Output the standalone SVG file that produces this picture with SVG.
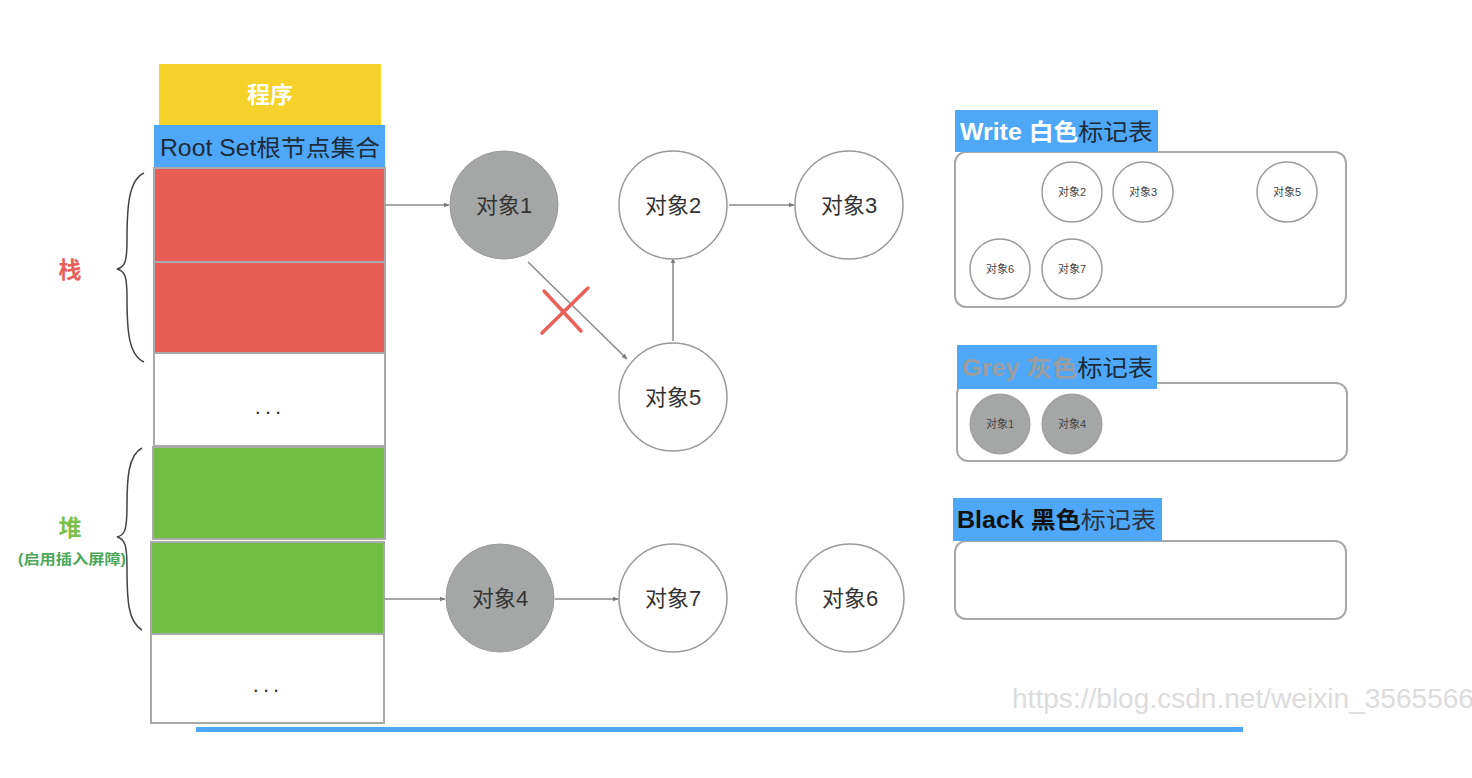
<svg xmlns="http://www.w3.org/2000/svg" width="1472" height="778" viewBox="0 0 1472 778">
<defs>
<style>
.t{font-family:"Liberation Sans","Noto Sans CJK SC",sans-serif}
.cell{stroke:#a9a9a9;stroke-width:2}
.big{fill:#fff;stroke:#9a9a9a;stroke-width:1.5}
.gray{fill:#a5a7a6;stroke:#9a9a9a;stroke-width:1}
.lbl{font-size:22px;fill:#333;text-anchor:middle;dominant-baseline:central}
.sl{font-size:11px;fill:#444;text-anchor:middle;dominant-baseline:central}
.panel{fill:#fff;stroke:#a8a8a8;stroke-width:2}
.hdr{fill:#4fa8f7}
.conn{stroke:#8a8a8a;stroke-width:1.5;fill:none;marker-end:url(#ah)}
.brace{fill:none;stroke:#444;stroke-width:1.5}
</style>
<marker id="ah" viewBox="0 0 10 10" refX="9" refY="5" markerWidth="6" markerHeight="6" orient="auto" markerUnits="userSpaceOnUse">
<path d="M0,1 L10,5 L0,9 Z" fill="#7a7a7a"/>
</marker>
</defs>
<rect width="1472" height="778" fill="#fff"/>

<g id="stack-column">
<rect x="159" y="64" width="222" height="61" fill="#f4d229"/>
<text class="t" x="270" y="95" font-size="23" font-weight="bold" fill="#fff" text-anchor="middle" dominant-baseline="central">程序</text>
<rect x="154" y="125" width="231" height="43" fill="#4fa8f7"/>
<text class="t" x="160" y="148" font-size="23" fill="#1d2b3a" dominant-baseline="central" textLength="220" lengthAdjust="spacingAndGlyphs">Root Set根节点集合</text>
<rect class="cell" x="154" y="168" width="231" height="94" fill="#e85d55"/>
<rect class="cell" x="154" y="262" width="231" height="91" fill="#e85d55"/>
<rect class="cell" x="154" y="353" width="231" height="93" fill="#fff"/>
<text class="t" x="270" y="414" font-size="22" fill="#333" text-anchor="middle" letter-spacing="4">...</text>
<rect class="cell" x="153" y="447" width="232" height="92" fill="#72bd43"/>
<rect class="cell" x="151" y="542" width="233" height="92" fill="#72bd43"/>
<rect class="cell" x="151" y="634" width="233" height="89" fill="#fff"/>
<text class="t" x="268" y="692" font-size="22" fill="#333" text-anchor="middle" letter-spacing="4">...</text>
</g>

<g id="stack-label">
<path class="brace" d="M144,173 C128,180 127,210 127,240 C127,262 125,267 117,269 C125,271 127,276 127,298 C127,328 128,355 144,362"/>
<text class="t" x="70" y="270" font-size="23" font-weight="bold" fill="#e8625c" text-anchor="middle" dominant-baseline="central">栈</text>
</g>

<g id="heap-label">
<path class="brace" d="M142,448 C128,455 127,480 127,505 C127,530 125,535 117,537 C125,539 127,545 127,568 C127,600 128,622 142,630"/>
<text class="t" x="70" y="528" font-size="23" font-weight="bold" fill="#7cc04b" text-anchor="middle" dominant-baseline="central">堆</text>
<text class="t" x="72" y="559" font-size="14" font-weight="bold" fill="#4aa858" text-anchor="middle" dominant-baseline="central" textLength="108" lengthAdjust="spacingAndGlyphs">(启用插入屏障)</text>
</g>

<g id="connectors">
<line class="conn" x1="385" y1="205" x2="449" y2="205"/>
<line class="conn" x1="528" y1="262" x2="627" y2="359"/>
<line class="conn" x1="673" y1="341" x2="673" y2="258"/>
<line class="conn" x1="729" y1="205" x2="794" y2="205"/>
<line class="conn" x1="385" y1="599" x2="445" y2="599"/>
<line class="conn" x1="555" y1="599" x2="618" y2="599"/>
</g>

<g id="cut-mark">
<line x1="542" y1="333" x2="588" y2="288" stroke="#ea6059" stroke-width="3.5" stroke-linecap="round"/>
<line x1="544" y1="291" x2="581" y2="331" stroke="#ea6059" stroke-width="3.5" stroke-linecap="round"/>
</g>

<g id="obj1"><circle class="gray" cx="504" cy="205" r="54"/><text class="t lbl" x="504" y="205">对象1</text></g>
<g id="obj2"><circle class="big" cx="673" cy="205" r="54"/><text class="t lbl" x="673" y="205">对象2</text></g>
<g id="obj3"><circle class="big" cx="849" cy="205" r="54"/><text class="t lbl" x="849" y="205">对象3</text></g>
<g id="obj5"><circle class="big" cx="673" cy="397" r="54"/><text class="t lbl" x="673" y="397">对象5</text></g>
<g id="obj4"><circle class="gray" cx="500" cy="598" r="54"/><text class="t lbl" x="500" y="598">对象4</text></g>
<g id="obj7"><circle class="big" cx="673" cy="598" r="54"/><text class="t lbl" x="673" y="598">对象7</text></g>
<g id="obj6"><circle class="big" cx="850" cy="598" r="54"/><text class="t lbl" x="850" y="598">对象6</text></g>

<g id="white-table">
<rect class="panel" x="955" y="152" width="391" height="155" rx="11"/>
<rect class="hdr" x="955" y="110" width="203" height="42"/>
<text class="t" x="960" y="132" font-size="23" dominant-baseline="central" textLength="193" lengthAdjust="spacingAndGlyphs"><tspan fill="#fff" font-weight="bold">Write 白色</tspan><tspan fill="#1d2b3a">标记表</tspan></text>
<circle class="big" cx="1072" cy="192" r="30"/><text class="t sl" x="1072" y="192">对象2</text>
<circle class="big" cx="1143" cy="192" r="30"/><text class="t sl" x="1143" y="192">对象3</text>
<circle class="big" cx="1287" cy="192" r="30"/><text class="t sl" x="1287" y="192">对象5</text>
<circle class="big" cx="1000" cy="269" r="30"/><text class="t sl" x="1000" y="269">对象6</text>
<circle class="big" cx="1072" cy="269" r="30"/><text class="t sl" x="1072" y="269">对象7</text>
</g>

<g id="grey-table">
<rect class="panel" x="957" y="383" width="390" height="78" rx="11"/>
<rect class="hdr" x="957" y="345" width="200" height="44"/>
<text class="t" x="962" y="368" font-size="23" dominant-baseline="central" textLength="191" lengthAdjust="spacingAndGlyphs"><tspan fill="#9c9c9c" font-weight="bold">Grey 灰色</tspan><tspan fill="#1d2b3a">标记表</tspan></text>
<circle class="gray" cx="1000" cy="424" r="30"/><text class="t sl" x="1000" y="424">对象1</text>
<circle class="gray" cx="1072" cy="424" r="30"/><text class="t sl" x="1072" y="424">对象4</text>
</g>

<g id="black-table">
<rect class="panel" x="955" y="541" width="391" height="78" rx="11"/>
<rect class="hdr" x="953" y="498" width="209" height="43"/>
<text class="t" x="957" y="520" font-size="23" dominant-baseline="central" textLength="199" lengthAdjust="spacingAndGlyphs"><tspan fill="#111" font-weight="bold">Black 黑色</tspan><tspan fill="#2a3440">标记表</tspan></text>
</g>

<rect x="196" y="727" width="1047" height="5" fill="#4fa8f7"/>
<text class="t" x="1012" y="708" font-size="27" fill="#dcdcdc" textLength="462" lengthAdjust="spacingAndGlyphs">https://blog.csdn.net/weixin_3565566</text>
</svg>
